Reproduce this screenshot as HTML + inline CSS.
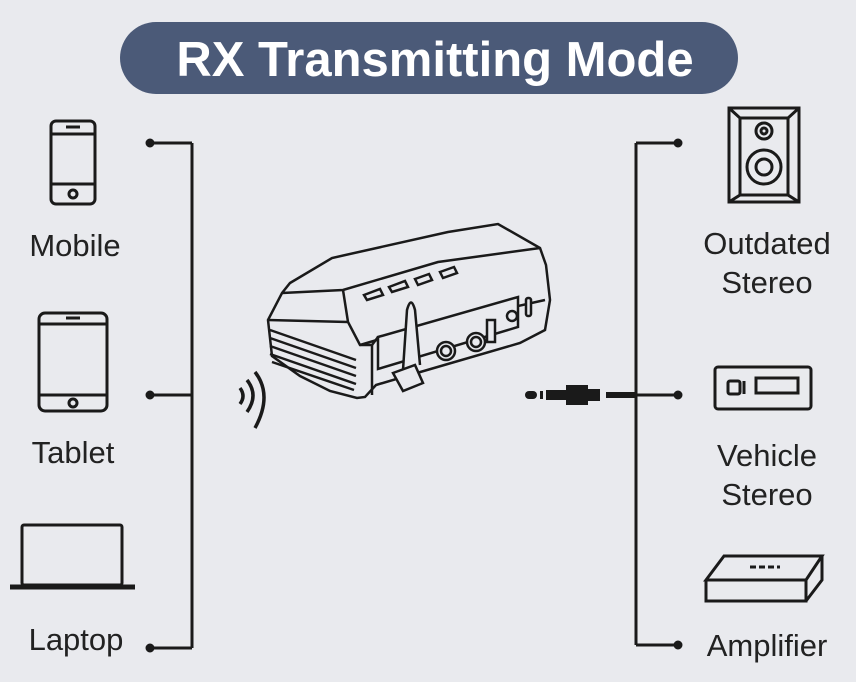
<!DOCTYPE html>
<html><head><style>
body{margin:0;width:856px;height:682px;background:#e9eaee;font-family:"Liberation Sans",sans-serif;overflow:hidden;position:relative}
.t{position:absolute;font-size:31px;color:#222;text-align:center;line-height:39px}
</style></head><body>
<svg width="856" height="682" style="position:absolute;left:0;top:0" fill="none" stroke="#1a1a1a" stroke-width="3">
<rect x="120" y="22" width="618" height="72" rx="36" fill="#4b5a78" stroke="none"/>
<text x="435" y="76" font-family="Liberation Sans" font-weight="bold" font-size="49" fill="#fff" stroke="none" text-anchor="middle">RX Transmitting Mode</text>
<path d="M192 143V648M150 143H192M150 395H192M150 648H192"/>
<circle cx="150" cy="143" r="3" fill="#1a1a1a"/><circle cx="150" cy="395" r="3" fill="#1a1a1a"/><circle cx="150" cy="648" r="3" fill="#1a1a1a"/>
<path d="M636 143V645M636 143H678M636 395H678M636 645H678"/>
<circle cx="678" cy="143" r="3" fill="#1a1a1a"/><circle cx="678" cy="395" r="3" fill="#1a1a1a"/><circle cx="678" cy="645" r="3" fill="#1a1a1a"/>
<g fill="#1a1a1a" stroke="none">
<rect x="525" y="391" width="12" height="8" rx="4"/><rect x="540" y="391" width="3" height="8"/>
<rect x="546" y="390" width="22" height="10"/><rect x="566" y="385" width="22" height="20"/>
<rect x="588" y="389" width="12" height="12"/><rect x="606" y="392" width="30" height="6"/>
</g>
<path d="M240 388q6 8 0 16M247 380q12 15 0 32M255 372q18 23 0 56" stroke-width="3.5"/>
<rect x="51" y="121" width="44" height="83" rx="5"/><path d="M51 134H95M51 184H95"/><path d="M66 127H80"/><circle cx="73" cy="194" r="4"/>
<rect x="39" y="313" width="68" height="98" rx="6"/><path d="M39 324H107M39 395H107M66 318H80"/><circle cx="73" cy="403" r="4"/>
<rect x="22" y="525" width="100" height="60" rx="2"/><path d="M10 587H135" stroke-width="5"/>
<rect x="729" y="108" width="70" height="94"/><path d="M729 108L740 118V195L729 202M799 108L788 118V195L799 202M740 118H788M740 195H788"/>
<circle cx="764" cy="131" r="8"/><circle cx="764" cy="131" r="3"/><circle cx="764" cy="167" r="17"/><circle cx="764" cy="167" r="8"/>
<rect x="715" y="367" width="96" height="42" rx="3"/><rect x="728" y="381" width="12" height="13" rx="2"/><rect x="756" y="378" width="42" height="15"/><path d="M744 381V394"/>
<path d="M706 580L724 556H822L806 580ZM706 580V601H806V580M806 601L822 580V556"/><path d="M750 567H780" stroke-dasharray="6 3"/>
<g stroke-width="2.5" fill="#e9eaee">
<path d="M282 293L290 283 332 258 448 232 498 224 540 248 546 265 550 300 545 330 520 343 410 375 376 385 365 397 357 398 330 391 300 376 272 356 268 320Z"/>
<path d="M282 293L343 290 438 262 540 248"/>
<path d="M343 290L348 322 360 345 372 345 378 337M268 320L348 322"/>
<path d="M360 345L410 330 545 300"/>
<path d="M372 345V395"/>
<path d="M270 330l86 30M270 338l86 30M270 346l86 30M270 354l86 30M272 362l82 28"/>
<path d="M378 337l140-40v30l-140 42z"/>
<path d="M403 370l4-60q4-15 8 0l5 55" fill="#e9eaee"/>
<path d="M393 373l22-8 8 18-20 8z"/>
<circle cx="446" cy="351" r="9"/><circle cx="446" cy="351" r="5"/><circle cx="476" cy="342" r="9"/><circle cx="476" cy="342" r="5"/>
<rect x="487" y="320" width="8" height="22"/><circle cx="512" cy="316" r="5"/><rect x="526" y="298" width="5" height="18" rx="2"/>
<path d="M364 295l16-6 3 6-16 5zM389 287l16-6 3 6-16 5zM415 279l14-5 3 6-14 5zM440 272l14-5 3 6-14 5z"/>
</g>
</svg>
<div class="t" style="left:15px;top:226px;width:120px">Mobile</div>
<div class="t" style="left:13px;top:433px;width:120px">Tablet</div>
<div class="t" style="left:16px;top:620px;width:120px">Laptop</div>
<div class="t" style="left:687px;top:224px;width:160px">Outdated<br>Stereo</div>
<div class="t" style="left:687px;top:436px;width:160px">Vehicle<br>Stereo</div>
<div class="t" style="left:687px;top:626px;width:160px">Amplifier</div>
</body></html>
